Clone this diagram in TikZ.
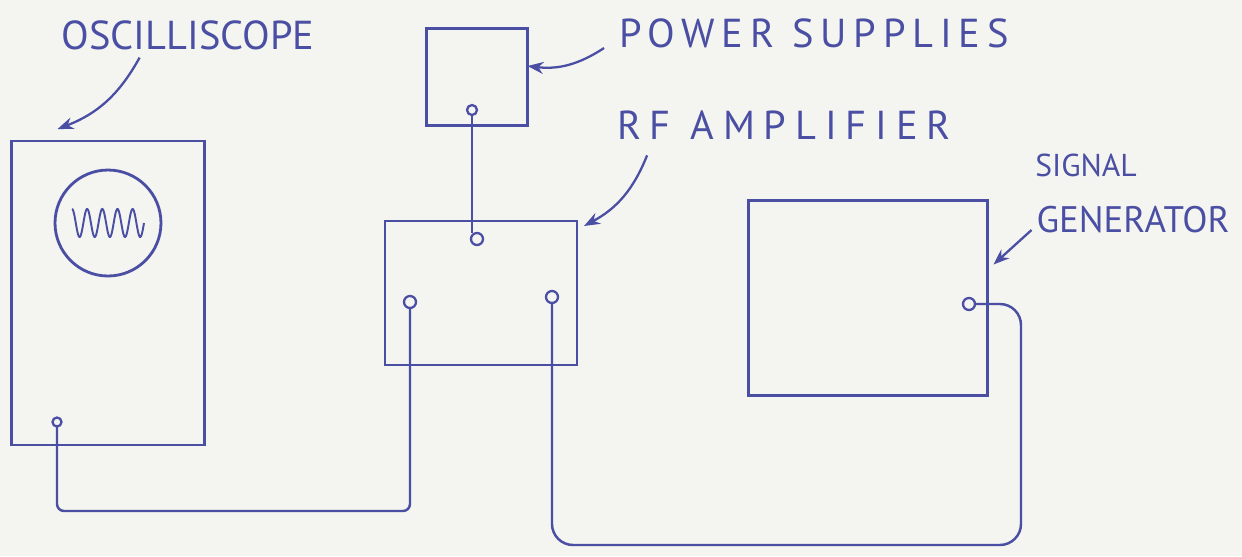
\documentclass[tikz,border=0pt]{standalone}
\usepackage{fontspec}
\newfontfamily\hand{PT Sans}
\usetikzlibrary{arrows.meta,positioning,calc}
\definecolor{ink}{HTML}{4A4FA4}
\definecolor{paper}{HTML}{F4F4F0}

\begin{document}
\begin{tikzpicture}[x=0.02cm,y=-0.02cm,>=Stealth,
 every node/.style={inner sep=0pt,outer sep=0pt},
 unit/.style={draw=ink,line width=1.6pt},
 port/.style={circle,draw=ink,line width=1.3pt,minimum size=2.4mm},
 wire/.style={draw=ink,line width=1.4pt,rounded corners=4pt},
 pointer/.style={draw=ink,line width=1.3pt,-{Stealth[length=3.2mm,width=2.4mm]}},
 lbl/.style={text=ink,font=\hand\fontsize{23}{25}\selectfont}]
\fill[paper] (0,0) rectangle (1242,556);
\useasboundingbox (0,0) rectangle (1242,556);
% instruments
\node[unit,minimum width=3.86cm,minimum height=6.08cm] (scope) at (108,293) {};
\node[unit,circle,minimum size=2.12cm] (screen) at (108,223) {};
\node[unit,minimum width=2.02cm,minimum height=1.94cm] (psu) at (477,77) {};
\node[unit,minimum width=3.84cm,minimum height=2.88cm] (amp) at (481,293) {};
\node[unit,minimum width=4.78cm,minimum height=3.9cm] (gen) at (868,298) {};
% trace on the screen
\draw[ink,line width=1.1pt,shift={(screen.center)}]
  plot[domain=-36:36,samples=160,smooth] (\x,{-14*cos(23.75*(\x+36))});
% sockets
\node[port,minimum size=1.8mm] (scopeport) at (57,422) {};
\node[port,minimum size=2mm] (psuport) at (472,110) {};
\node[port] (amptop) at (477,239) {};
\node[port] (ampleft) at (410,302) {};
\node[port] (ampright) at (552,297) {};
\node[port] (genport) at (969,304) {};
\coordinate (loop) at (1021,545);
% cables
\draw[wire] (psuport.south) -- (psuport |- amptop.north);
\draw[wire] (scopeport.south) |- (ampleft |- 0,511) -- (ampleft.south);
\draw[wire,rounded corners=12pt] (ampright.south) |- (loop) |- (genport.east);
% labels
\node[lbl] (scopelabel) at (188,35) {OSCILLISCOPE};
\node[lbl,font=\hand\fontsize{23}{25}\selectfont\addfontfeatures{LetterSpace=17}] (psulabel) at (814,33) {POWER SUPPLIES};
\node[lbl,font=\hand\fontsize{23}{25}\selectfont\addfontfeatures{LetterSpace=22}] (amplabel) at (784,125) {RF AMPLIFIER};
\node[lbl,font=\hand\fontsize{18}{20}\selectfont] (siglabel) at (1086,165) {SIGNAL};
\node[lbl,font=\hand\fontsize{21}{23}\selectfont] (genlabel) at (1133,220) {GENERATOR};
% pointers
\draw[pointer] ($(scopelabel.south west)+(78,8)$) to[bend left=20] ($(scope.north west)+(46,-12)$);
\draw[pointer] ($(psulabel.west)+(-15,15)$) to[bend left=20] ($(psu.east)+(0,-11)$);
\draw[pointer] ($(amplabel.south west)+(30,16)$) to[bend left=20] ($(amp.north east)+(7,5)$);
\draw[pointer] ($(genlabel.west)+(-5,10)$) -- ($(gen.north east)+(6,64)$);
\end{tikzpicture}
\end{document}
